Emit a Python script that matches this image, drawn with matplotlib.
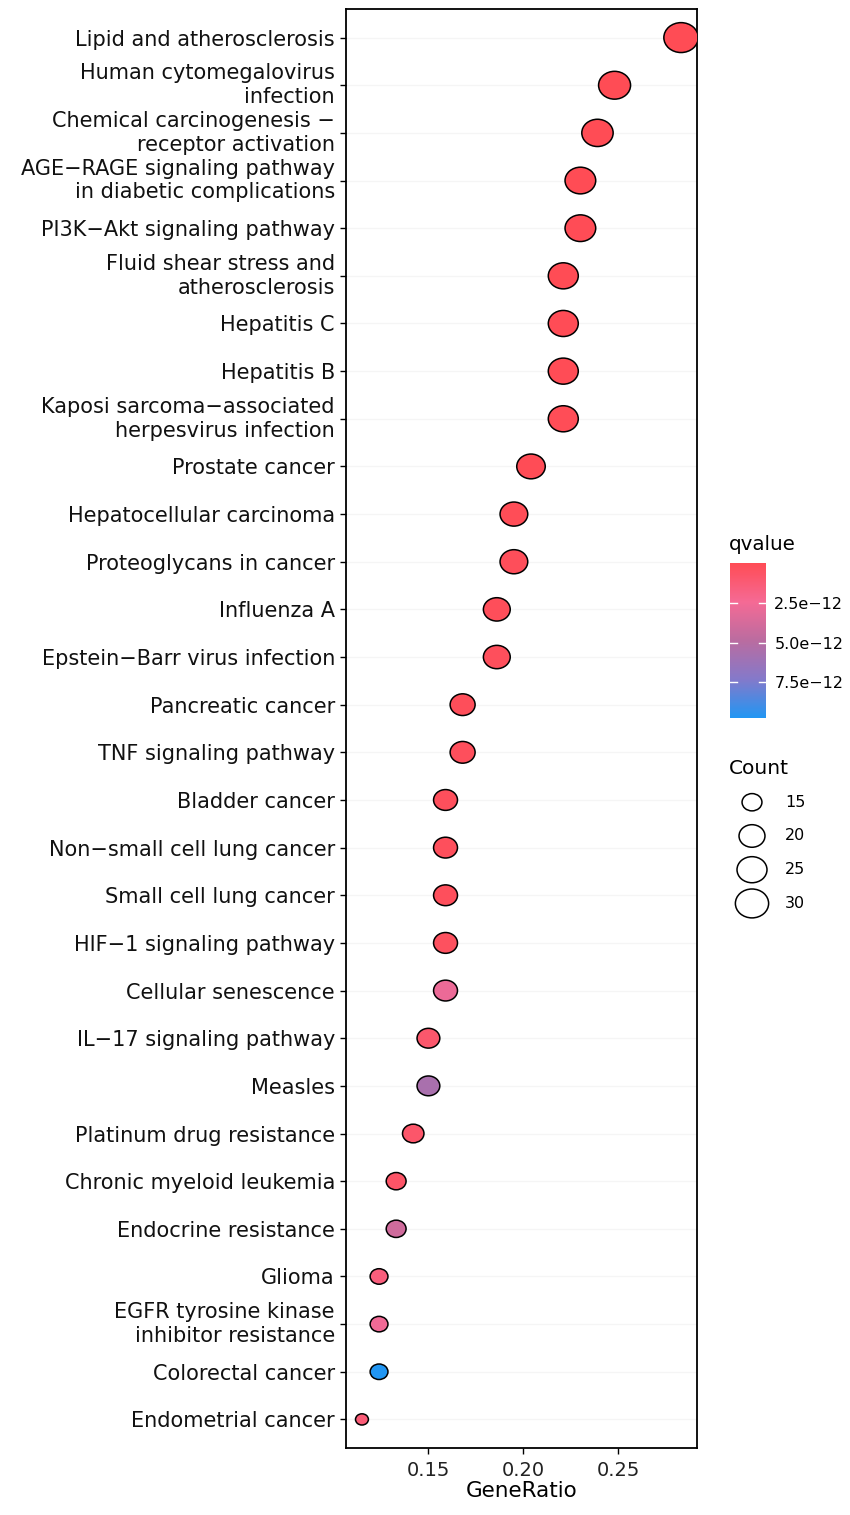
import numpy as np
import matplotlib
matplotlib.use('Agg')
import matplotlib.pyplot as plt
from matplotlib.path import Path
from matplotlib.colors import LinearSegmentedColormap, Normalize
from matplotlib.cm import ScalarMappable

# pathways, top to bottom
pathways = [
    'Lipid and atherosclerosis',
    'Human cytomegalovirus\ninfection',
    'Chemical carcinogenesis \u2212\nreceptor activation',
    'AGE\u2212RAGE signaling pathway\nin diabetic complications',
    'PI3K\u2212Akt signaling pathway',
    'Fluid shear stress and\natherosclerosis',
    'Hepatitis C',
    'Hepatitis B',
    'Kaposi sarcoma\u2212associated\nherpesvirus infection',
    'Prostate cancer',
    'Hepatocellular carcinoma',
    'Proteoglycans in cancer',
    'Influenza A',
    'Epstein\u2212Barr virus infection',
    'Pancreatic cancer',
    'TNF signaling pathway',
    'Bladder cancer',
    'Non\u2212small cell lung cancer',
    'Small cell lung cancer',
    'HIF\u22121 signaling pathway',
    'Cellular senescence',
    'IL\u221217 signaling pathway',
    'Measles',
    'Platinum drug resistance',
    'Chronic myeloid leukemia',
    'Endocrine resistance',
    'Glioma',
    'EGFR tyrosine kinase\ninhibitor resistance',
    'Colorectal cancer',
    'Endometrial cancer',
]
gene_ratio = [0.283, 0.248, 0.239, 0.230, 0.230, 0.221, 0.221, 0.221, 0.221, 0.204,
              0.195, 0.195, 0.186, 0.186, 0.168, 0.168, 0.159, 0.159, 0.159, 0.159,
              0.159, 0.150, 0.150, 0.142, 0.133, 0.133, 0.124, 0.124, 0.124, 0.115]
counts = [32, 28, 27, 26, 26, 25, 25, 25, 25, 23,
          22, 22, 21, 21, 19, 19, 18, 18, 18, 18,
          18, 17, 17, 16, 15, 15, 14, 14, 14, 13]
qvalue = [0.001e-12, 0.01e-12, 0.02e-12, 0.02e-12, 0.05e-12, 0.03e-12, 0.05e-12, 0.06e-12,
          0.08e-12, 0.05e-12, 0.10e-12, 0.20e-12, 0.20e-12, 0.30e-12, 0.20e-12, 0.30e-12,
          0.30e-12, 0.30e-12, 0.30e-12, 0.40e-12, 2.8e-12, 0.9e-12, 5.6e-12, 0.8e-12,
          0.7e-12, 4.0e-12, 1.5e-12, 2.6e-12, 9.73e-12, 1.3e-12]
count_breaks = [15, 20, 25, 30]
q_ticks = [2.5e-12, 5.0e-12, 7.5e-12]
q_ticklabels = ['2.5e\u221212', '5.0e\u221212', '7.5e\u221212']
x_ticks = [0.15, 0.20, 0.25]

plt.rcParams['font.family'] = ['DejaVu Sans']

DPI = 100
cmap = LinearSegmentedColormap.from_list(
    'q', [(0, '#FF4C55'), (0.25, '#F56A95'), (0.5, '#BA6CA0'), (0.75, '#8479CA'), (1, '#2196F3')])
norm = Normalize(vmin=min(qvalue), vmax=max(qvalue))

# slightly wide ellipse marker (the source image is stretched horizontally)
circ = Path.unit_circle()
ellipse = Path(circ.vertices * np.array([1.0, 1 / 1.15]), circ.codes)

cmin, cmax = min(counts), max(counts)


def marker_area(c):
    size = 1 + 5 * np.sqrt((np.asarray(c, float) - cmin) / (cmax - cmin))
    width_px = 8.6 + 4.3 * size
    return (width_px * 72 / DPI) ** 2


fig = plt.figure(figsize=(8.5, 15.15), dpi=DPI)
ax = fig.add_axes([346 / 850, 1 - 1448 / 1515, 351 / 850, 1439 / 1515])

n = len(pathways)
ypos = np.arange(n, 0, -1)
ax.scatter(gene_ratio, ypos, s=marker_area(counts), c=qvalue, cmap=cmap, norm=norm,
           marker=ellipse, edgecolors='black', linewidths=1.1, zorder=3)

ax.set_ylim(0.4, n + 0.6)
rng = max(gene_ratio) - min(gene_ratio)
ax.set_xlim(min(gene_ratio) - 0.05 * rng, max(gene_ratio) + 0.05 * rng)
ax.set_yticks(ypos)
ax.set_yticklabels(pathways, fontsize=15, color='#111111', linespacing=1.22)
for lbl in ax.get_yticklabels():
    if '\n' in lbl.get_text():
        lbl.set_va('center')
ax.set_xticks(x_ticks)
ax.set_xticklabels(['%.2f' % v for v in x_ticks], fontsize=14, color='#222222')
ax.tick_params(length=4, width=1, pad=4, color='black')
ax.tick_params(axis='x', pad=5)
ax.set_xlabel('GeneRatio', fontsize=15.5, labelpad=1)
ax.grid(axis='y', color='#F5F5F5', linewidth=1)
ax.set_axisbelow(True)
for sp in ax.spines.values():
    sp.set_linewidth(1.3)

# colourbar legend
cax = fig.add_axes([730 / 850, 1 - 718 / 1515, 36 / 850, 155 / 1515])
cb = fig.colorbar(ScalarMappable(norm=norm, cmap=cmap), cax=cax)
cb.outline.set_visible(False)
cax.invert_yaxis()
cax.set_yticks(q_ticks)
cax.set_yticklabels(q_ticklabels, fontsize=11.5)
cax.tick_params(length=0, pad=6)
for v in q_ticks:
    cax.axhline(v, 0, 0.2, color='white', linewidth=1)
    cax.axhline(v, 0.8, 1, color='white', linewidth=1)
fig.text(729 / 850, 1 - 545 / 1515, 'qvalue', fontsize=14.3, va='center')

# size legend
lax = fig.add_axes([730 / 850, 1 - 922 / 1515, 100 / 850, 140 / 1515])
lax.set_xlim(0, 1)
lax.set_ylim(len(count_breaks) - 0.45, -0.6)
lax.axis('off')
lax.scatter([0.22] * len(count_breaks), range(len(count_breaks)), s=marker_area(count_breaks),
            marker=ellipse, facecolors='none', edgecolors='black', linewidths=1.1)
for i, b in enumerate(count_breaks):
    lax.text(0.55, i, str(b), fontsize=11.5, va='center')
fig.text(729 / 850, 1 - 768 / 1515, 'Count', fontsize=14.5, va='center')

fig.savefig('out.png', dpi=DPI)
